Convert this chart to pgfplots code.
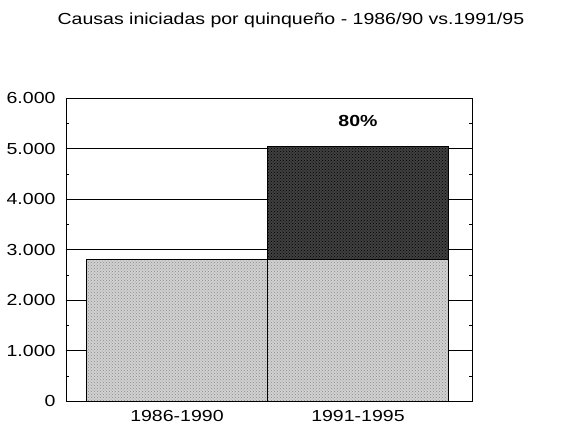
\documentclass[border=0pt]{standalone}
\usepackage{pgfplots}
\pgfplotsset{compat=1.18}
\usepackage{fontspec}
\setmainfont{Liberation Sans}[FakeStretch=1.22]
\usetikzlibrary{patterns}
\begin{document}
\begin{tikzpicture}[x=1pt,y=1pt]
\useasboundingbox (0,0) rectangle (576,429);
\begin{axis}[
  at={(66pt,28pt)}, anchor=south west,
  scale only axis, width=406pt, height=303pt,
  ybar stacked, bar width=1,
  xmin=-0.613, xmax=1.63,
  ymin=0, ymax=6000,
  ytick={0,1000,2000,3000,4000,5000,6000},
  minor y tick num=1,
  ymajorgrids, major grid style={black, line width=0.8pt},
  ytick pos=both,
  tick style={black},
  xtick={0,1}, xticklabels={1986-1990,1991-1995},
  xtick style={draw=none},
  x tick label style={yshift=-6pt},
  y tick label style={xshift=-7pt},
  /pgf/number format/.cd, 1000 sep={.}, assume math mode=true,
  /pgfplots/.cd,
  tick label style={font=\fontsize{16}{18}\selectfont},
  axis line style={black, line width=0.8pt},
  clip=false,
]
\addplot+[ybar, draw=black, line width=0.8pt, fill=black!18, postaction={pattern=crosshatch dots, pattern color=black!45}] coordinates {(0,2800) (1,2800)};
\addplot+[ybar, draw=black, line width=0.8pt, fill=black!75, postaction={pattern=crosshatch dots, pattern color=black}] coordinates {(0,0) (1,2240)};
\node[font=\fontsize{16}{18}\selectfont\bfseries] at (axis cs:1,5550) {80\%};
\node[font=\fontsize{16}{18}\selectfont, anchor=base] at ([yshift=74pt]rel axis cs:0.554,1) {Causas iniciadas por quinqueño - 1986/90 vs.1991/95};
\end{axis}
\end{tikzpicture}
\end{document}
